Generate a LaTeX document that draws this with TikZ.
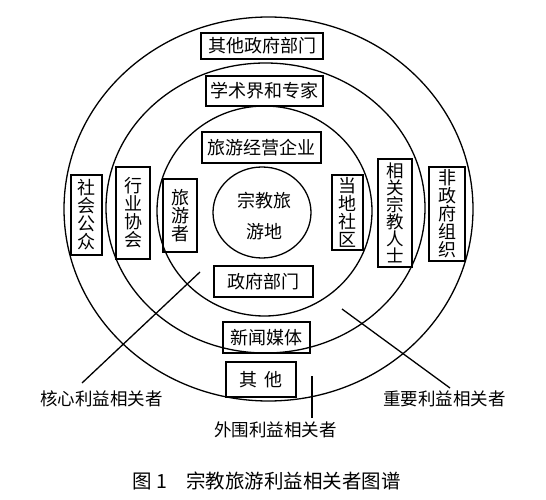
\documentclass[tikz,border=0pt]{standalone}
\usepackage{fontspec}
\setmainfont{Noto Sans CJK SC}
\usetikzlibrary{shapes.geometric}
\tikzset{
  ring/.style={draw, ellipse, inner sep=0pt, line width=1.3pt},
  hbox/.style={draw, line width=1.5pt, inner sep=0pt, font=\fontsize{18}{18}\selectfont},
  vbox/.style={draw, line width=1.5pt, inner sep=0pt, align=center, font=\fontsize{18}{18}\selectfont},
  lab/.style={inner sep=0pt, font=\fontsize{17.5}{17.5}\selectfont},
  lead/.style={line width=1.3pt}
}
\begin{document}
\begin{tikzpicture}[x=1pt,y=-1pt]
\useasboundingbox[fill=white] (0,0) rectangle (546,500);
% rings
\node[ring, minimum width=409pt, minimum height=384pt] (outer) at (268.5,209) {};
\node[ring, minimum width=319pt, minimum height=290pt] (second) at (265.5,208) {};
\node[ring, minimum width=215pt, minimum height=210pt] (third) at (264.5,211) {};
\node[ring, minimum width=98pt, minimum height=91pt] (core) at (262,212.5) {};
\node[align=center, inner sep=0pt, font=\fontsize{18}{31}\selectfont] (coretext) at (264,216) {宗教旅\\游地};
% horizontal boxes
\node[hbox, minimum width=122pt, minimum height=26pt] (qtzf) at (262,46) {其他政府部门};
\node[hbox, minimum width=117pt, minimum height=30pt] (xsj) at (264.5,91) {学术界和专家};
\node[hbox, minimum width=119pt, minimum height=31pt] (lyjy) at (261.5,147.5) {旅游经营企业};
\node[hbox, minimum width=99pt, minimum height=31pt] (zfbm) at (263.5,281.5) {政府部门};
\node[hbox, minimum width=87pt, minimum height=31pt] (xwmt) at (266.5,337.5) {新闻媒体};
\node[hbox, minimum width=70pt, minimum height=35pt] (qt) at (261,379.5) {其\hspace{8pt}他};
% vertical boxes
\node[vbox, minimum width=31pt, minimum height=80pt] (shgz) at (86.5,215) {社\\会\\公\\众};
\node[vbox, minimum width=34pt, minimum height=92pt] (hyxh) at (133,213) {行\\业\\协\\会};
\node[vbox, minimum width=34pt, minimum height=73pt] (lyz) at (180,215.5) {旅\\游\\者};
\node[vbox, minimum width=31pt, minimum height=75pt] (ddsq) at (347.5,212.5) {当\\地\\社\\区};
\node[vbox, minimum width=34pt, minimum height=108pt, font=\fontsize{17.5}{17}\selectfont] (xgzj) at (395,213) {相\\关\\宗\\教\\人\\士};
\node[vbox, minimum width=36pt, minimum height=94pt] (fzf) at (447,214) {非\\政\\府\\组\\织};
% labels
\node[lab] (hx) at (101.5,399) {核心利益相关者};
\node[lab] (zy) at (444.5,399) {重要利益相关者};
\node[lab] (ww) at (275.5,430) {外围利益相关者};
\node[inner sep=0pt, font=\fontsize{19.5}{19.5}\selectfont] (cap) at (266.5,481) {图 1\hspace{19pt}宗教旅游利益相关者图谱};
% leader lines
\coordinate (hxs) at (200,272);
\coordinate (hxe) at (82,383);
\coordinate (zys) at (342,309);
\coordinate (zye) at (450,388);
\coordinate (wws) at (312,376);
\coordinate (wwe) at (312,418);
\draw[lead] (hxs) -- (hxe);
\draw[lead] (zys) -- (zye);
\draw[lead] (wws) -- (wwe);
\end{tikzpicture}
\end{document}
